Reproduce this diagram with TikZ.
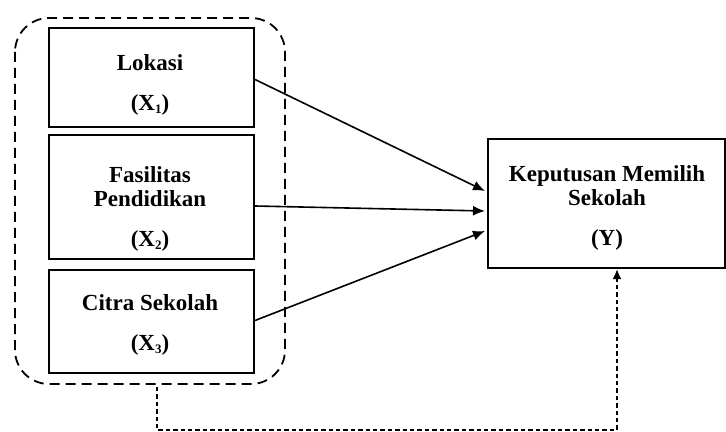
\documentclass[tikz,border=0pt]{standalone}
\usepackage{fontspec}
\setmainfont{Liberation Serif}
\usetikzlibrary{arrows.meta,calc}
\newcommand{\mysub}[1]{\raisebox{-0.25ex}{\fontsize{6.5}{7}\selectfont #1}}
\begin{document}
\begin{tikzpicture}[x=0.5pt,y=-0.5pt,
  varbox/.style={draw,line width=1pt,inner sep=0pt,anchor=north west},
  lbl/.style={font=\fontsize{11.5}{12}\selectfont\bfseries,align=center,inner sep=0pt},
  link/.style={line width=0.8pt,-{Latex[length=6pt,width=5pt]}},
  moder/.style={line width=1.1pt,dash pattern=on 2.2pt off 1.5pt,-{Latex[length=5pt,width=4.5pt]}},
  group/.style={draw,line width=0.9pt,dash pattern=on 5pt off 3pt,rounded corners=17pt}]
\useasboundingbox (0,0) rectangle (726,432);
\draw[group] (15,18) rectangle (285,384);
\node[varbox,minimum width=102.5pt,minimum height=49.5pt] (b1) at (48,27) {};
\node[varbox,minimum width=102.5pt,minimum height=62pt] (b2) at (48,134) {};
\node[varbox,minimum width=102.5pt,minimum height=51.5pt] (b3) at (48,269) {};
\node[varbox,minimum width=118.5pt,minimum height=64.5pt] (y) at (487,138) {};
\node[lbl] (t1) at (150,85) {Lokasi\\[8pt](X\mysub{1})};
\node[lbl] (t2) at (150,209) {Fasilitas\\Pendidikan\\[8pt](X\mysub{2})};
\node[lbl] (t3) at (150,325) {Citra Sekolah\\[8pt](X\mysub{3})};
\node[lbl] (ty) at (607,208) {Keputusan Memilih\\Sekolah\\[8pt](Y)};
\coordinate (s1) at ($(b1.east)+(0,2)$);
\coordinate (s2) at ($(b2.east)+(0,9)$);
\coordinate (s3) at ($(b3.east)+(0,-1)$);
\coordinate (e1) at ($(y.west)+(-2,-12.5)$);
\coordinate (e2) at ($(y.west)+(-2,7.5)$);
\coordinate (e3) at ($(y.west)+(-2,27.5)$);
\draw[link] (s1) -- (e1);
\draw[link] (s2) -- (e2);
\draw[link] (s3) -- (e3);
\coordinate (g) at (157,387);
\coordinate (yb) at ($(y.south west)+(130,0)$);
\draw[moder] (g) |- (617,430) -- (yb);
\end{tikzpicture}
\end{document}
